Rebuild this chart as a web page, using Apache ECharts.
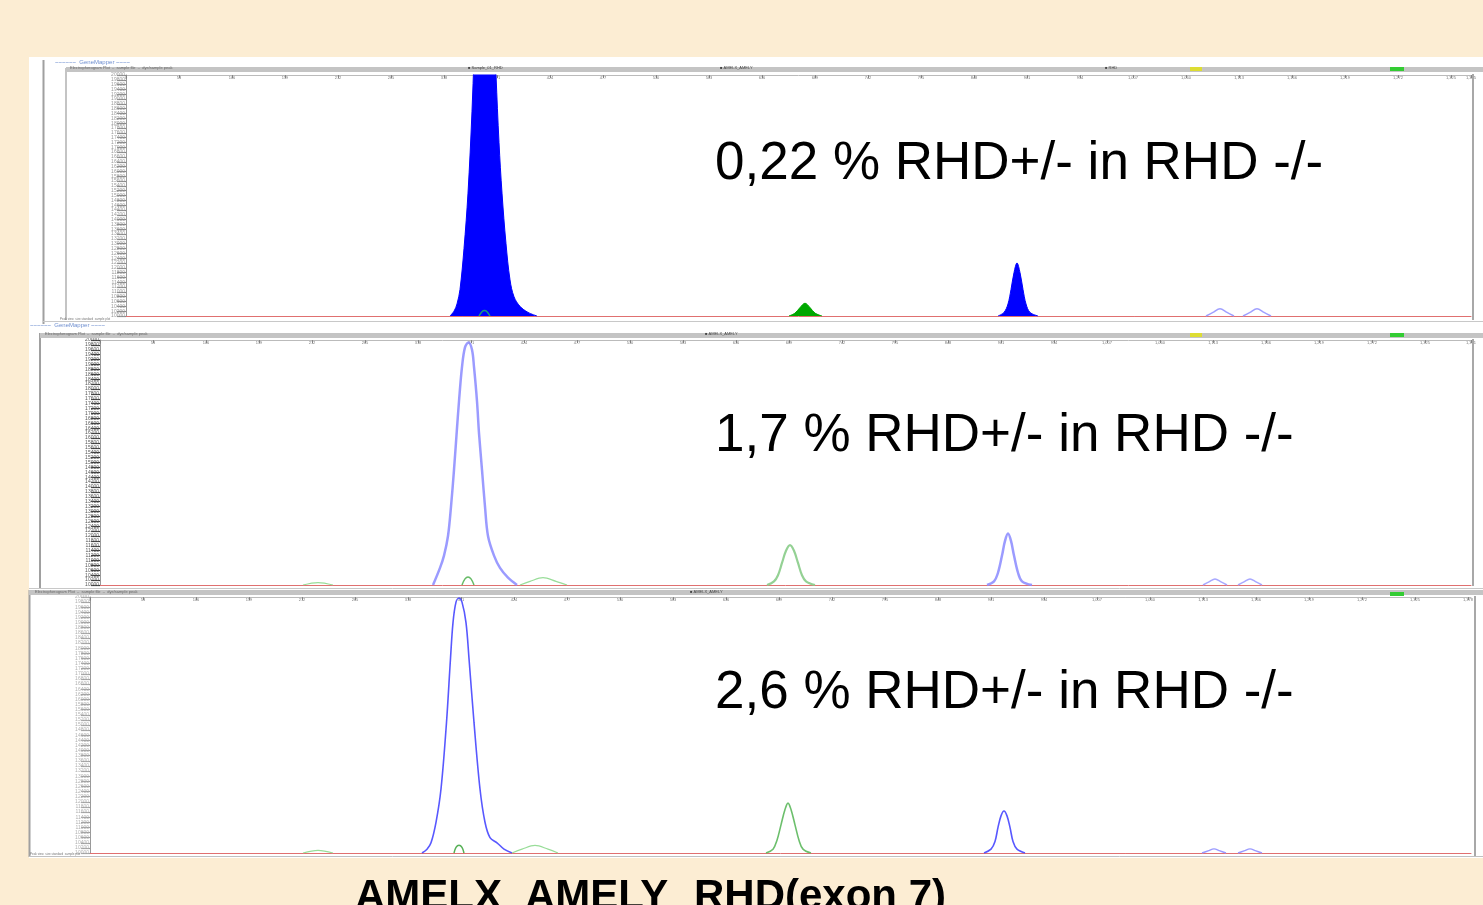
<!DOCTYPE html>
<html><head><meta charset="utf-8">
<script src="https://cdn.jsdelivr.net/npm/echarts@6/dist/echarts.min.js"></script>
<style>html,body{margin:0;padding:0;background:#FCEDD3}#c{width:1483px;height:905px}</style>
</head><body><div id="c"></div><script>
// ---- text ----
const panelLabels = ['0,22 % RHD+/- in RHD -/-', '1,7 % RHD+/- in RHD -/-', '2,6 % RHD+/- in RHD -/-'];
const markerLabels = ['AMELX', 'AMELY', 'RHD(exon 7)'];
// ---- panel 1 (scan position, relative fluorescence %) ----
const p1AmelBlue = [[324,0],[328,2],[331,5],[334,11],[338,28],[342,51],[346,85],[350,130],[355,175],[358.5,190],[362,180],[366,140],[370,100],[373,72],[376,51],[380,30],[384,15],[388,8],[394,4],[402,1.5],[411,0]];
const p1RhdBlue = [[872,0],[878,1.5],[882,5],[885,11],[888,18],[891,22],[894,18],[897,11],[900,5],[904,1.5],[912,0]];
const p1AmelyGreen = [[663,0],[669,1.2],[674,3.5],[679,5.3],[684,3.5],[689,1.2],[696,0]];
const p1SmallGreen = [[353,0],[356,1.8],[358.5,2.3],[361,1.8],[364,0]];
const p1Faint1 = [[1080,0],[1087,1.5],[1094,3],[1101,1.5],[1108,0]];
const p1Faint2 = [[1117,0],[1124,1.5],[1131,3],[1138,1.5],[1145,0]];
// ---- panel 2 ----
const p2AmelBlue = [[333,0],[340,7],[344,12],[348,20],[351,32],[354,47],[357,64],[359,75],[362,89],[365,97],[368.5,99],[372,96],[374,89],[377,75],[379,62],[382,47],[385,32],[388,20],[394,12],[400,7],[408,3],[417,0]];
const p2RhdBlue = [[887,0],[894,1.5],[898,5],[902,12],[905,18],[908,21],[911,18],[914,12],[918,5],[922,1.5],[932,0]];
const p2AmelyGreen = [[667,0],[674,1.5],[678,4],[682,9],[686,14],[690,16.3],[694,14],[698,9],[702,4],[706,1.5],[715,0]];
const p2SmallGreen = [[362,0],[365,2.5],[368,3.3],[371,2.5],[374,0]];
const p2HumpGreen = [[420,0],[430,1.5],[443,3],[456,1.5],[467,0]];
const p2HumpGreen2 = [[203,0],[218,1],[233,0]];
const p2Faint1 = [[1103,0],[1109,1.3],[1115,2.5],[1121,1.3],[1127,0]];
const p2Faint2 = [[1138,0],[1144,1.3],[1150,2.5],[1156,1.3],[1162,0]];
// ---- panel 3 ----
const p3AmelBlue = [[332,0],[337,1.5],[341,4],[346,12],[351,25],[356.5,51],[360.5,76],[363,90],[366,98],[369,99.6],[372,98],[376,90],[379,76],[384,51],[390,25],[395,12],[400,6],[407,4],[414,1.5],[422,0]];
const p3RhdBlue = [[894,0],[901,1.5],[905,4.5],[908,10],[911,14.5],[914,16.4],[917,14.5],[920,10],[923,4.5],[927,1.5],[935,0]];
const p3AmelyGreen = [[676,0],[683,1.5],[687,5],[691,11],[695,17],[698,19.5],[701,17],[705,11],[709,5],[713,1.5],[721,0]];
const p3SmallGreen = [[364,0],[366,2.2],[369,3],[372,2.2],[374,0]];
const p3HumpGreen = [[422,0],[432,1.5],[445,3],[458,1.5],[468,0]];
const p3HumpGreen2 = [[213,0],[228,1],[243,0]];
const p3Faint1 = [[1112,0],[1118,0.8],[1124,1.6],[1130,0.8],[1136,0]];
const p3Faint2 = [[1148,0],[1154,0.8],[1160,1.6],[1166,0.8],[1172,0]];

const grids = [
  {left:126, top:75, width:1345, height:241},
  {left:100, top:340, width:1371, height:245},
  {left:90, top:597, width:1381, height:256}
];
const tickCol = ['#8a8a8a', '#3a3a3a', '#a0a0a0'];
const labCol = ['#999', '#555', '#b0b0b0'];

const xAxes = [], yAxes = [];
grids.forEach((g, i) => {
  xAxes.push({type:'value', gridIndex:i, min:0, max:g.width, position:'bottom',
    axisLine:{show:true, lineStyle:{color:'#e07070', width:1}}, axisTick:{show:false}, axisLabel:{show:false}, splitLine:{show:false}});
  xAxes.push({type:'value', gridIndex:i, min:0, max:g.width, interval:53, position:'top',
    axisLine:{show:true, lineStyle:{color:'#bbb', width:1}}, axisTick:{show:true, inside:true, length:3, lineStyle:{color:'#888'}},
    axisLabel:{show:true, inside:true, fontSize:4, color:'#777', margin:1}, splitLine:{show:false}});
  yAxes.push({type:'value', gridIndex:i, min:0, max:100, interval:2,
    axisLine:{show:true, lineStyle:{color:'#999', width:1}},
    axisTick:{show:true, length:9, lineStyle:{color:tickCol[i], width:1.2}},
    axisLabel:{show:true, fontSize:5, color:labCol[i], margin:1, formatter: v => String(v*100+10000)},
    splitLine:{show:false}});
});

function line(gi, data, color, width, fill, opacity) {
  return {type:'line', xAxisIndex:gi*2, yAxisIndex:gi, data, symbol:'none', smooth:0.35, clip:true,
    lineStyle:{color, width, opacity: opacity==null?1:opacity},
    areaStyle: fill ? {color, opacity:1} : undefined, z: fill?3:4, silent:true};
}
const series = [
  line(0, p1AmelBlue, '#0000ff', 1, true),
  line(0, p1RhdBlue, '#0000ff', 1, true),
  line(0, p1AmelyGreen, '#00a800', 1, true),
  line(0, p1SmallGreen, '#1a9a7a', 1.5, false),
  line(0, p1Faint1, '#a0a0ff', 1.5, false),
  line(0, p1Faint2, '#a0a0ff', 1.5, false),
  line(1, p2AmelBlue, '#8a8aff', 2.5, false, 0.85),
  line(1, p2RhdBlue, '#8a8aff', 2.5, false, 0.85),
  line(1, p2AmelyGreen, '#88cc88', 2.2, false, 0.9),
  line(1, p2SmallGreen, '#66bb66', 1.5, false),
  line(1, p2HumpGreen, '#99dd99', 1.2, false),
  line(1, p2HumpGreen2, '#99dd99', 1.2, false),
  line(1, p2Faint1, '#a8a8ff', 1.5, false),
  line(1, p2Faint2, '#a8a8ff', 1.5, false),
  line(2, p3AmelBlue, '#4646ff', 1.6, false, 0.9),
  line(2, p3RhdBlue, '#4646ff', 1.6, false, 0.9),
  line(2, p3AmelyGreen, '#5cb85c', 1.6, false, 0.9),
  line(2, p3SmallGreen, '#55b055', 1.5, false),
  line(2, p3HumpGreen, '#99dd99', 1.2, false),
  line(2, p3HumpGreen2, '#99dd99', 1.2, false),
  line(2, p3Faint1, '#9a9aff', 1.4, false),
  line(2, p3Faint2, '#9a9aff', 1.4, false)
];

const F = 'Liberation Sans, Arial, sans-serif';
function gl(x1,y1,x2,y2,color,w){return {type:'line', z:1, shape:{x1,y1,x2,y2}, style:{stroke:color, lineWidth:w||1}};}
function gr(x,y,w,h,color){return {type:'rect', z:1, shape:{x,y,width:w,height:h}, style:{fill:color}};}
function tiny(x,y,t,c,s){return {type:'text', z:5, x, y, style:{text:t, fill:c||'#8a8a8a', font:(s||5)+'px '+F}};}
const graphic = [
  {type:'rect', z:0, shape:{x:29, y:57, width:1454, height:801}, style:{fill:'#ffffff'}},
  // panel 1 frame
  gl(43.5,60,43.5,324,'#a0a0a0',2), gl(66,68,66,320,'#b0b0b0',1.5),
  gr(66,67,1417,5,'#c4c4c4'), gl(43,321.5,1483,321.5,'#c8c8c8',1), gl(1473,74,1473,320,'#a8a8a8',2),
  tiny(55,59,'~~~~~~  GeneMapper ~~~~','#6f8fd0',6), tiny(70,66,'Electropherogram Plot  –  sample file  –  dye/sample peak','#666',4),
  tiny(468,66,'\u25a0 Sample_01_RHD','#444',4), tiny(720,66,'\u25a0 AMELX_AMELY','#444',4), tiny(1105,66,'\u25a0 RHD','#444',4),
  gr(1390,67,14,4,'#33cc33'), gr(1190,67,12,4,'#dddd33'),
  tiny(60,318,'Peak view  size standard  sample plot','#777',3),
  // panel 2 frame
  gl(40,333,40,588,'#a0a0a0',2), gr(40,333,1443,5,'#c4c4c4'), gl(1473,339,1473,586,'#a8a8a8',2),
  tiny(30,322,'~~~~~~  GeneMapper ~~~~','#6f8fd0',6), tiny(45,332,'Electropherogram Plot  –  sample file  –  dye/sample peak','#666',4),
  tiny(705,332,'\u25a0 AMELX_AMELY','#444',4), gr(1390,333,14,4,'#33cc33'), gr(1190,333,12,4,'#dddd33'),
  gl(29,588.5,1483,588.5,'#c8c8c8',1),
  // panel 3 frame
  gl(29.5,590,29.5,857,'#a0a0a0',2), gr(29,590,1454,5,'#c4c4c4'), gl(1475,596,1475,856,'#a8a8a8',2),
  tiny(35,590,'Electropherogram Plot  –  sample file  –  dye/sample peak','#666',4),
  tiny(690,590,'\u25a0 AMELX_AMELY','#444',4), gr(1390,592,14,4,'#33cc33'),
  gl(29,856.5,1483,856.5,'#c0c0c0',1),
  tiny(30,853,'Peak view  size standard  sample plot','#777',3),
  // annotations
  {type:'text', z:10, x:715, y:164, style:{text:panelLabels[0], fill:'#000', font:'53px '+F, verticalAlign:'middle'}},
  {type:'text', z:10, x:715, y:436, style:{text:panelLabels[1], fill:'#000', font:'53px '+F, verticalAlign:'middle'}},
  {type:'text', z:10, x:715, y:693, style:{text:panelLabels[2], fill:'#000', font:'53px '+F, verticalAlign:'middle'}},
  {type:'text', z:10, x:355, y:897, style:{text:markerLabels[0], fill:'#000', font:'bold 42px '+F, verticalAlign:'middle'}},
  {type:'text', z:10, x:525, y:897, style:{text:markerLabels[1], fill:'#000', font:'bold 42px '+F, verticalAlign:'middle'}},
  {type:'text', z:10, x:694, y:897, style:{text:markerLabels[2], fill:'#000', font:'bold 42px '+F, verticalAlign:'middle'}}
];

const chart = echarts.init(document.getElementById('c'), null, {renderer:'canvas'});
chart.setOption({
  backgroundColor:'#FCEDD3',
  animation:false,
  grid: grids,
  xAxis: xAxes,
  yAxis: yAxes,
  series,
  graphic
});
</script></body></html>
